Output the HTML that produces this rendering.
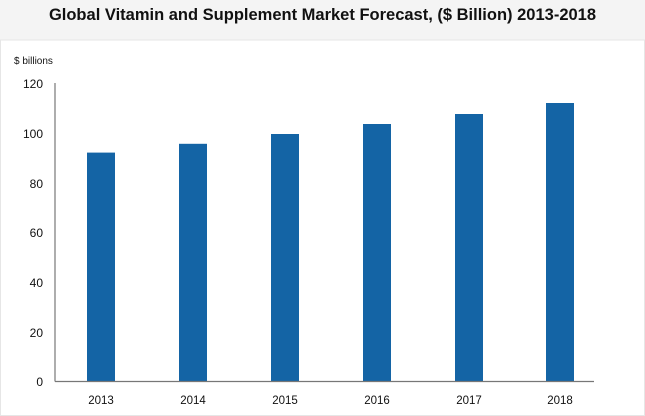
<!DOCTYPE html>
<html><head><style>
body{margin:0;width:645px;height:416px;background:#fff;font-family:"Liberation Sans",sans-serif;overflow:hidden;position:relative}
.hdr{position:absolute;left:0;top:0;width:645px;height:40px;background:#f4f4f4}
.hdr div{text-align:center;font-weight:bold;font-size:16.5px;line-height:30px;color:#111}
</style></head><body>
<div class="hdr"><div>Global Vitamin and Supplement Market Forecast, ($ Billion) 2013-2018</div></div>
<svg width="645" height="416" style="position:absolute;left:0;top:0" font-family="Liberation Sans, sans-serif">
<rect x="0.5" y="40" width="644" height="375.5" fill="none" stroke="#e6e6e6"/>
<text x="14" y="64" font-size="10" fill="#111">$ billions</text>
<g font-size="12" fill="#111" text-anchor="end">
<text x="43" y="386">0</text><text x="43" y="337">20</text><text x="43" y="287">40</text>
<text x="43" y="237">60</text><text x="43" y="188">80</text><text x="43" y="138">100</text><text x="43" y="88">120</text>
</g>
<g fill="#1464a5">
<rect x="87" y="152.6" width="28" height="228.4"/>
<rect x="179" y="143.8" width="28" height="237.2"/>
<rect x="271" y="134" width="28" height="247"/>
<rect x="363" y="124" width="28" height="257"/>
<rect x="455" y="114" width="28" height="267"/>
<rect x="546" y="103" width="28" height="278"/>
</g>
<line x1="55" y1="83" x2="55" y2="381.5" stroke="#777" stroke-width="1.2"/>
<line x1="55" y1="381.5" x2="594" y2="381.5" stroke="#777" stroke-width="1.2"/>
<g font-size="11.5" fill="#111" text-anchor="middle">
<text x="101" y="404">2013</text><text x="193" y="404">2014</text><text x="285" y="404">2015</text>
<text x="377" y="404">2016</text><text x="469" y="404">2017</text><text x="560" y="404">2018</text>
</g>
</svg>
</body></html>
